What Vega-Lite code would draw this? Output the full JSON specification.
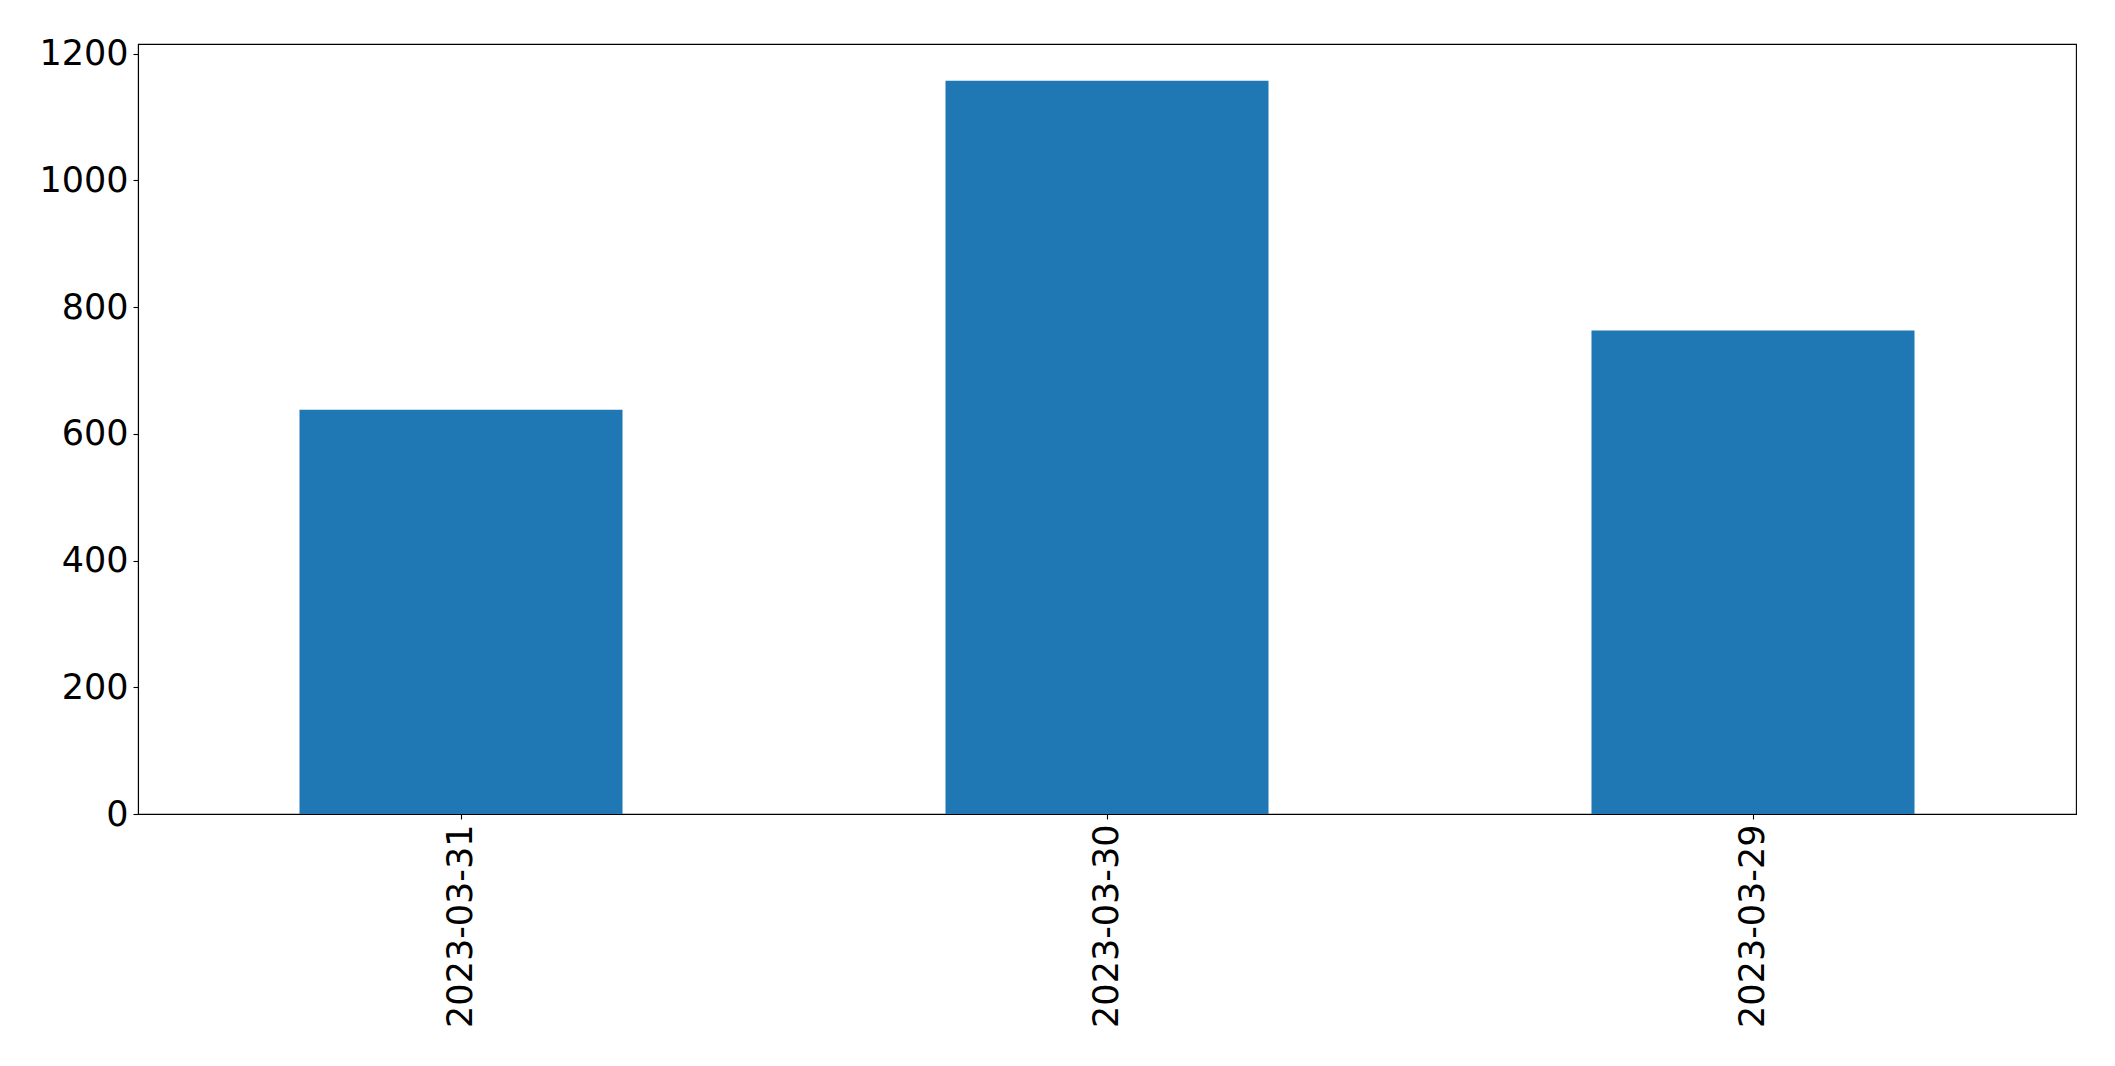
{
  "$schema": "https://vega.github.io/schema/vega-lite/v6.json",
  "autosize": {"type": "none"},
  "padding": {"left": 138, "top": 44, "right": 39, "bottom": 252},
  "width": 1938,
  "height": 770,
  "background": "white",
  "config": {
    "view": {"stroke": "black", "strokeWidth": 1.1},
    "axis": {
      "labelFont": "DejaVu Sans",
      "labelFontSize": 35,
      "labelColor": "black",
      "labelLimit": 0,
      "domainColor": "black",
      "domainWidth": 1.1,
      "tickColor": "black",
      "tickWidth": 1.1,
      "tickSize": 5,
      "labelPadding": 5,
      "grid": false,
      "title": null
    }
  },
  "data": {
    "values": [
      {"date": "2023-03-31", "value": 638},
      {"date": "2023-03-30", "value": 1157},
      {"date": "2023-03-29", "value": 763}
    ]
  },
  "mark": {"type": "bar", "color": "#1f77b4"},
  "encoding": {
    "x": {
      "field": "date",
      "type": "nominal",
      "sort": null,
      "scale": {"paddingInner": 0.5, "paddingOuter": 0.25},
      "axis": {"labelAngle": 270, "labelAlign": "right", "labelBaseline": "middle"}
    },
    "y": {
      "field": "value",
      "type": "quantitative",
      "scale": {"domain": [0, 1215], "nice": false, "zero": true},
      "axis": {"values": [0, 200, 400, 600, 800, 1000, 1200], "format": "d"}
    }
  }
}
